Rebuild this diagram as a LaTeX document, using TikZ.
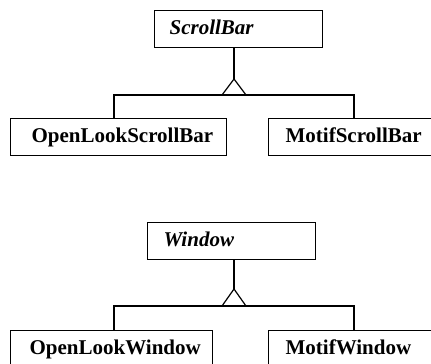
\documentclass[tikz,border=0pt]{standalone}
\usepackage{fontspec}
\setmainfont{Liberation Serif}
\begin{document}
\begin{tikzpicture}[x=1pt,y=-1pt,line width=1.2pt,
  cls/.style 2 args={draw, rectangle, anchor=north west, minimum height=37pt,
    inner xsep=0pt, inner ysep=0pt, text width=#1pt, align=left, text depth=3pt,
    execute at begin node={\hspace*{#2pt}},
    font=\fontsize{21}{24}\selectfont\bfseries},
  abs/.style 2 args={cls={#1}{#2}, font=\fontsize{21}{24}\selectfont\bfseries\itshape},
  gen/.style={draw, line join=miter}]
\useasboundingbox (0,0) rectangle (431,364);
\clip (0,0) rectangle (431,364);
% ---- ScrollBar hierarchy
\node[abs={168}{15}] (sb) at (154,10) {ScrollBar};
\node[cls={216}{21}] (olsb) at (10,118) {OpenLookScrollBar};
\node[cls={172}{17}] (msb) at (268,118) {MotifScrollBar};
\coordinate (sbapex) at (234,79);
\coordinate (sbl) at (222,95);
\coordinate (sbr) at (246,95);
\coordinate (sbbl) at (114,95);
\coordinate (sbbr) at (354,95);
\draw[gen] (sbapex |- sb.south) -- (sbapex);
\draw[gen] (sbapex) -- (sbl) -- (sbr) -- cycle;
\draw[gen] (sbbl |- olsb.north) -- (sbbl) -- (sbbr) -- (sbbr |- msb.north);
% ---- Window hierarchy
\node[abs={168}{16}] (win) at (147,222) {Window};
\node[cls={202}{19}] (olw) at (10,330) {OpenLookWindow};
\node[cls={172}{17}] (mw) at (268,330) {MotifWindow};
\coordinate (wapex) at (234,289);
\coordinate (wl) at (222,306);
\coordinate (wr) at (246,306);
\coordinate (wbl) at (114,306);
\coordinate (wbr) at (354,306);
\draw[gen] (wapex |- win.south) -- (wapex);
\draw[gen] (wapex) -- (wl) -- (wr) -- cycle;
\draw[gen] (wbl |- olw.north) -- (wbl) -- (wbr) -- (wbr |- mw.north);
\end{tikzpicture}
\end{document}
